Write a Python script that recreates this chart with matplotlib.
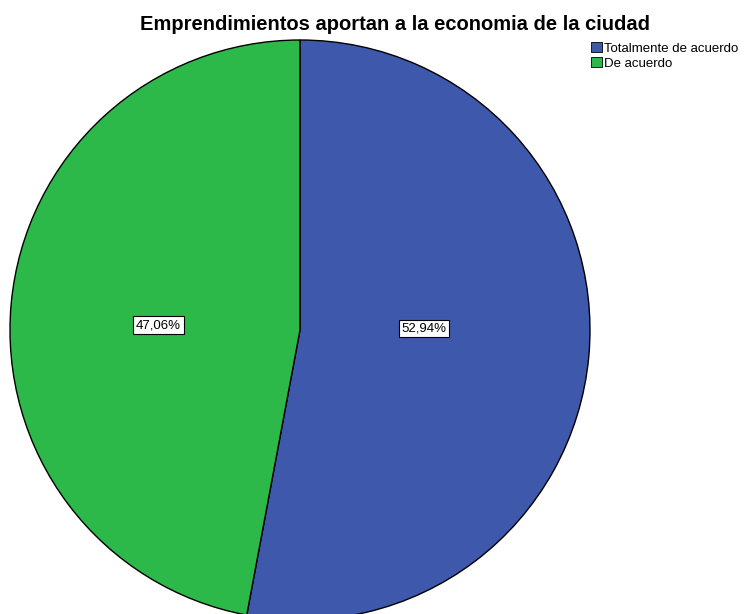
import numpy as np
import matplotlib.pyplot as plt
from matplotlib.patches import Patch

plt.rcParams['font.family'] = ['Liberation Sans', 'DejaVu Sans']

categories = ['Totalmente de acuerdo', 'De acuerdo']
values = [52.94, 47.06]
colors = ['#3E58AC', '#2DB84A']

fig = plt.figure(figsize=(7.5, 6.14), dpi=100)

# pie axes: centre ~ (300, 330) px, radius ~290 px
W, H = 750, 614
cx, cy, r = 300, 330, 290
ax = fig.add_axes([(cx - r) / W, 1 - (cy + r) / H, 2 * r / W, 2 * r / H])

wedges, texts, autotexts = ax.pie(
    values, colors=colors, startangle=90, counterclock=False,
    radius=1, autopct=lambda p: f'{p:.2f}%'.replace('.', ','),
    wedgeprops=dict(edgecolor='black', linewidth=1.0))

# SPSS-like label placement: roughly along the horizontal through the centre
label_dist = [0.43, 0.49]
label_lift = [0.005, 0.017]
for w, t, d, h in zip(wedges, autotexts, label_dist, label_lift):
    theta = np.deg2rad((w.theta1 + w.theta2) / 2)
    t.set_position((d * np.cos(theta), h))
    t.set_fontsize(9.5)
    t.set_bbox(dict(boxstyle='square,pad=0.2', facecolor='white',
                    edgecolor='black', linewidth=0.8))
ax.set_xlim(-1, 1)
ax.set_ylim(-1, 1)
ax.set_aspect('equal')
ax.axis('off')

fig.text(395 / W, 1 - 24 / H, 'Emprendimientos aportan a la economia de la ciudad',
         ha='center', va='center', fontsize=14.5, fontweight='bold')

handles = [Patch(facecolor=c, edgecolor='black', linewidth=0.6) for c in colors]
fig.legend(handles, categories, loc='upper left',
           bbox_to_anchor=(591 / W, 1 - 42 / H), frameon=False,
           fontsize=9.5, handlelength=0.8, handleheight=0.8,
           handletextpad=0.2, labelspacing=0.2, borderpad=0, borderaxespad=0)

fig.savefig('out.png', dpi=100)
